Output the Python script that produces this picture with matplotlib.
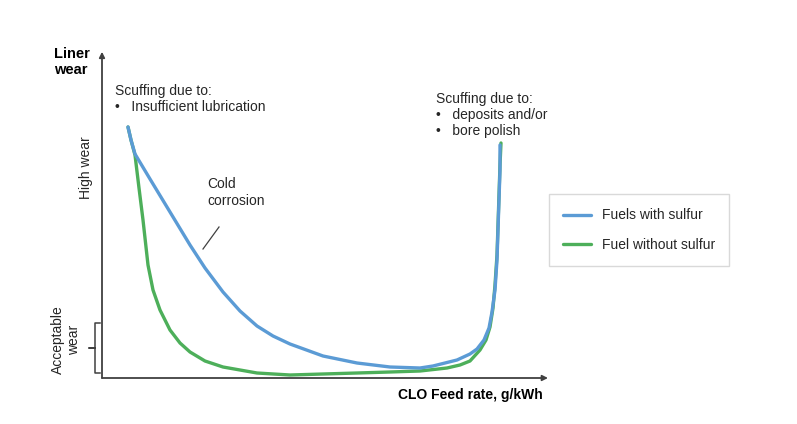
import matplotlib
matplotlib.use("Agg")
import matplotlib.pyplot as plt

plt.rcParams['font.family'] = ['Liberation Sans', 'DejaVu Sans']

W, H = 797, 424

# Curve values (arbitrary units: feed rate, liner wear)
blue_x = [26, 29, 33, 48, 68, 88, 103, 121, 138, 155, 171, 188, 221, 255, 288, 318,
          331, 355, 368, 375, 382, 387, 390, 393, 395, 396, 397, 398, 398]
blue_y = [251, 238, 224, 199, 166, 133, 110, 86, 67, 52, 42, 34, 22, 15, 11, 10,
          12, 18, 24, 29, 38, 50, 66, 88, 118, 148, 178, 208, 233]
green_x = [26, 29, 33, 37, 41, 46, 51, 58, 68, 78, 88, 103, 121, 155, 188, 221, 255,
           288, 318, 345, 358, 368, 378, 384, 388, 391, 393, 395, 396, 397, 398, 399]
green_y = [251, 238, 223, 190, 158, 113, 88, 68, 48, 35, 26, 17, 11, 5, 3, 4, 5,
           6, 7, 10, 13, 17, 28, 38, 51, 70, 93, 123, 153, 183, 213, 235]

series_labels = ["Fuels with sulfur", "Fuel without sulfur"]
blue_c = "#5B9BD5"
green_c = "#4DAF5A"
axis_c = "#404040"

fig = plt.figure(figsize=(W / 100, H / 100), dpi=100)

def fx(px):
    return px / W

def fy(py):
    return 1 - py / H

ax_l, ax_r, ax_t, ax_b = 102, 548, 55, 378
ax = fig.add_axes([fx(ax_l), fy(ax_b), (ax_r - ax_l) / W, (ax_b - ax_t) / H])
ax.set_xlim(0, ax_r - ax_l)
ax.set_ylim(0, ax_b - ax_t)
ax.axis('off')
ax.patch.set_alpha(0)

l_blue, = ax.plot(blue_x, blue_y, color=blue_c, lw=2.4, label=series_labels[0],
                  solid_capstyle='round', solid_joinstyle='round', zorder=4)
l_green, = ax.plot(green_x, green_y, color=green_c, lw=2.4, label=series_labels[1],
                   solid_capstyle='round', solid_joinstyle='round', zorder=3)

# axes arrows
ax.annotate("", xy=(0, 1.01), xytext=(0, 0), xycoords='axes fraction',
            arrowprops=dict(arrowstyle='-|>', color=axis_c, lw=1.3,
                            mutation_scale=8, shrinkA=0, shrinkB=0))
ax.annotate("", xy=(1.0, 0), xytext=(0, 0), xycoords='axes fraction',
            arrowprops=dict(arrowstyle='-|>', color=axis_c, lw=1.3,
                            mutation_scale=8, shrinkA=0, shrinkB=0))

txt_c = "#262626"
fs = 10
fig.text(fx(54), fy(47), "Liner\nwear", fontsize=10.5, fontweight='bold',
         va='top', ha='left', multialignment='left', color='black',
         linespacing=1.15)
fig.text(fx(115), fy(84), "Scuffing due to:\n•   Insufficient lubrication",
         fontsize=fs, va='top', ha='left', color=txt_c, linespacing=1.2)
fig.text(fx(436), fy(92), "Scuffing due to:\n•   deposits and/or\n•   bore polish",
         fontsize=fs, va='top', ha='left', color=txt_c, linespacing=1.2)
fig.text(fx(207), fy(177), "Cold\ncorrosion", fontsize=fs, va='top', ha='left',
         color=txt_c, linespacing=1.25)
fig.text(fx(543), fy(395), "CLO Feed rate, g/kWh", fontsize=fs, fontweight='bold',
         va='center', ha='right', color='black')
fig.text(fx(86), fy(168), "High wear", fontsize=fs, rotation=90, va='center',
         ha='center', color=txt_c)
fig.text(fx(66), fy(340), "Acceptable\nwear", fontsize=fs, rotation=90,
         va='center', ha='center', color=txt_c, linespacing=1.15)

# leader line for "Cold corrosion"
fig.add_artist(plt.Line2D([fx(219), fx(203)], [fy(227), fy(249)],
                          color=axis_c, lw=0.9))

# bracket for acceptable wear
bx = 100
bracket = [(bx, 323), (95, 323), (95, 348), (89, 348), (95, 348), (95, 373), (bx, 373)]
fig.add_artist(plt.Line2D([fx(p[0]) for p in bracket], [fy(p[1]) for p in bracket],
                          color=axis_c, lw=1.1))

leg = fig.legend(handles=[l_blue, l_green], loc='center left',
                 bbox_to_anchor=(fx(549), fy(230)),
                 frameon=True, fancybox=False, fontsize=fs, handlelength=2.0,
                 labelspacing=1.1, borderpad=1.0, handletextpad=0.8,
                 borderaxespad=0)
leg.get_frame().set_edgecolor("#d0d0d0")
leg.get_frame().set_linewidth(1.0)
for t in leg.get_texts():
    t.set_color(txt_c)

fig.savefig("out.png", dpi=100, facecolor='white')
